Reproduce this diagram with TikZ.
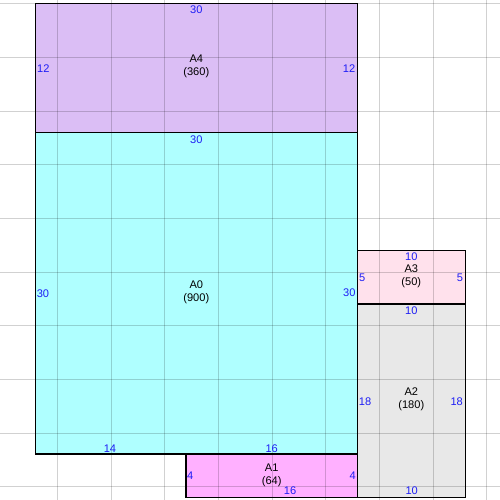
\documentclass[tikz,border=0pt]{standalone}
\usepackage{fontspec}
\setmainfont{Liberation Sans}
\definecolor{dimblue}{RGB}{30,30,245}
\definecolor{roomA0}{RGB}{175,255,255}
\definecolor{roomA1}{RGB}{255,176,255}
\definecolor{roomA2}{RGB}{232,232,232}
\definecolor{roomA3}{RGB}{255,225,236}
\definecolor{roomA4}{RGB}{219,190,245}
\tikzset{
    outline/.style={draw=black, line width=0.9pt},
    gridline/.style={draw=black, draw opacity=0.18, line width=0.75pt},
    dimlabel/.style={text=dimblue, inner sep=0pt, font=\fontsize{8.3}{10}\selectfont},
    arealabel/.style={align=center, inner sep=0pt, font=\fontsize{8.3}{9.75}\selectfont}
}
\begin{document}
\begin{tikzpicture}[x=0.75pt,y=-0.75pt]
    \useasboundingbox (0,0) rectangle (500,500);
    \fill[white] (0,0) rectangle (500,500);

    \coordinate (A4nw) at (35.3,3.7);
    \coordinate (A4se) at (357.3,132.3);
    \coordinate (A0nw) at (35.3,132.3);
    \coordinate (A0se) at (357.3,454);
    \coordinate (A3nw) at (357.3,250.7);
    \coordinate (A3se) at (465.3,304);
    \coordinate (A2nw) at (357.3,304);
    \coordinate (A2se) at (465.3,497.3);
    \coordinate (A1nw) at (186,454);
    \coordinate (A1se) at (357.3,497.3);

    \fill[roomA4] (A4nw) rectangle (A4se);
    \fill[roomA0] (A0nw) rectangle (A0se);
    \fill[roomA3] (A3nw) rectangle (A3se);
    \fill[roomA2] (A2nw) rectangle (A2se);
    \fill[roomA1] (A1nw) rectangle (A1se);

    \foreach \k in {1,...,9}
        \draw[gridline] ({3.7+53.67*\k},0) -- ({3.7+53.67*\k},500);
    \foreach \k in {0,...,9}
        \draw[gridline] (0,{3.7+53.67*\k}) -- (500,{3.7+53.67*\k});

    \draw[outline] (A4nw) rectangle (A4se);
    \draw[outline] (A0nw) rectangle (A0se);
    \draw[outline] (A3nw) rectangle (A3se);
    \draw[outline] (A2nw) rectangle (A2se);
    \draw[outline] (A1nw) rectangle (A1se);

    \node[arealabel] (A4name) at (196.3,66.8) {A4\\(360)};
    \node[dimlabel] (A4top) at (196.3,10) {30};
    \node[dimlabel] (A4left) at (43.3,68.3) {12};
    \node[dimlabel] (A4right) at (349,68.3) {12};

    \node[arealabel] (A0name) at (196.3,292.3) {A0\\(900)};
    \node[dimlabel] (A0top) at (196.3,139.3) {30};
    \node[dimlabel] (A0left) at (43,293.3) {30};
    \node[dimlabel] (A0right) at (349.3,292.7) {30};
    \node[dimlabel] (A0bottomL) at (110,448.3) {14};
    \node[dimlabel] (A0bottomR) at (271.7,448.3) {16};

    \node[arealabel] (A3name) at (411.3,276.3) {A3\\(50)};
    \node[dimlabel] (A3top) at (411.3,256.7) {10};
    \node[dimlabel] (A3left) at (362.3,277.7) {5};
    \node[dimlabel] (A3right) at (460,277.7) {5};

    \node[arealabel] (A2name) at (411.3,398.8) {A2\\(180)};
    \node[dimlabel] (A2top) at (411.3,311) {10};
    \node[dimlabel] (A2left) at (365,401.7) {18};
    \node[dimlabel] (A2right) at (456.7,401.7) {18};
    \node[dimlabel] (A2bottom) at (411.7,491) {10};

    \node[arealabel] (A1name) at (271.7,475) {A1\\(64)};
    \node[dimlabel] (A1left) at (190.3,476) {4};
    \node[dimlabel] (A1right) at (352.7,476) {4};
    \node[dimlabel] (A1bottom) at (290,490.7) {16};
\end{tikzpicture}
\end{document}
